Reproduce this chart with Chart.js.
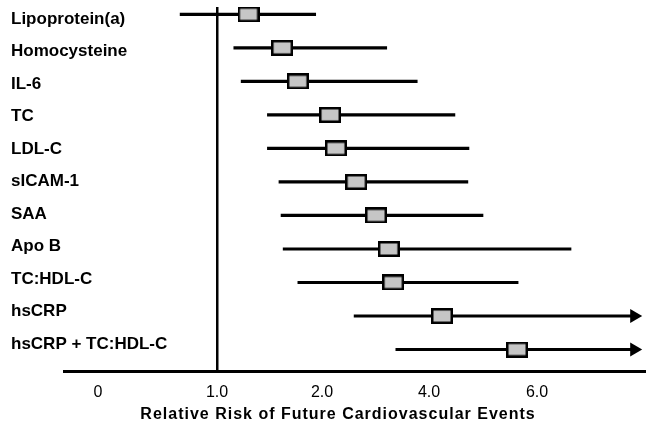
<!DOCTYPE html>
<html>
<head>
<meta charset="utf-8">
<title>Relative Risk of Future Cardiovascular Events</title>
<script src="https://cdn.jsdelivr.net/npm/chart.js@4.4.1/dist/chart.umd.min.js"></script>
<style>
  html, body { margin: 0; padding: 0; background: #fff; overflow: hidden; }
</style>
</head>
<body>
<canvas id="riskChart" width="646" height="426"></canvas>
<script>
// Markers, top to bottom
const markers = ['Lipoprotein(a)', 'Homocysteine', 'IL-6', 'TC', 'LDL-C', 'sICAM-1',
                 'SAA', 'Apo B', 'TC:HDL-C', 'hsCRP', 'hsCRP + TC:HDL-C'];
// Relative risk (box) and 95% CI (line)
const relRisk = [1.30, 1.62, 1.77, 2.15, 2.26, 2.64, 3.01, 3.25, 3.33, 4.24, 5.63];
const ciLow   = [0.69, 1.16, 1.23, 1.48, 1.48, 1.59, 1.61, 1.63, 1.77, 2.60, 3.38];
const ciHigh  = [1.94, 3.21, 3.78, 4.48, 4.74, 4.72, 5.00, 6.63, 5.65, 7.80, 7.80];
// CI runs off the end of the axis -> arrow
const offScale = [false, false, false, false, false, false, false, false, false, true, true];

// Printed axis (labels are not spaced to scale)
const tickRisk = [0, 1, 2, 4, 6];
const tickLabels = ['0', '1.0', '2.0', '4.0', '6.0'];
const tickPos = [0, 119, 224, 331, 439];

// risk -> axis units, piecewise between the printed ticks
function toAxis(r) {
    let k = 0;
    while (k < tickRisk.length - 2 && r > tickRisk[k + 1]) k++;
    const f = (r - tickRisk[k]) / (tickRisk[k + 1] - tickRisk[k]);
    return tickPos[k] + f * (tickPos[k + 1] - tickPos[k]);
}

// grey box marker
const box = document.createElement('canvas');
box.width = 22;
box.height = 16;
const bctx = box.getContext('2d');
bctx.fillStyle = '#c6c6c6';
bctx.fillRect(0, 0, 22, 16);
bctx.strokeStyle = '#000';
bctx.lineWidth = 2.5;
bctx.strokeRect(1.25, 1.25, 19.5, 13.5);

const font = '"Liberation Sans", Arial, Helvetica, sans-serif';

// caption under the axis
const axisCaption = {
    id: 'axisCaption',
    afterDraw(chart) {
        const c = chart.ctx;
        c.save();
        c.font = 'bold 16px ' + font;
        c.letterSpacing = '1px';
        c.fillStyle = '#000';
        c.textAlign = 'center';
        c.textBaseline = 'middle';
        c.fillText('Relative Risk of Future Cardiovascular Events', 338, 415);
        c.restore();
    }
};

const noPad = s => { s.paddingTop = 0; s.paddingBottom = 0; s.paddingLeft = 0; s.paddingRight = 0; };

const ctx = document.getElementById('riskChart').getContext('2d');
new Chart(ctx, {
    type: 'scatter',
    data: {
        datasets: [
            {
                type: 'scatter',
                order: 1,
                data: markers.map((m, i) => ({ x: toAxis(relRisk[i]), y: i })),
                pointStyle: box,
                pointRadius: 8
            },
            {
                type: 'scatter',
                order: 2,
                data: markers.map((m, i) => offScale[i] ? { x: toAxis(ciHigh[i]), y: i } : null).filter(p => p),
                pointStyle: 'triangle',
                rotation: 90,
                pointRadius: 8,
                backgroundColor: '#000',
                borderWidth: 0
            },
            {
                type: 'bar',
                order: 3,
                indexAxis: 'y',
                data: markers.map((m, i) => ({ x: [toAxis(ciLow[i]), toAxis(ciHigh[i])], y: i })),
                backgroundColor: '#000',
                borderWidth: 0,
                barThickness: 2.5
            }
        ]
    },
    options: {
        responsive: false,
        animation: false,
        events: [],
        layout: { autoPadding: false, padding: { left: 11, top: 7, right: 0, bottom: 0 } },
        plugins: { legend: { display: false }, tooltip: { enabled: false } },
        scales: {
            x: {
                type: 'linear',
                min: -34,
                max: 548,
                offset: false,
                afterBuildTicks: s => { s.ticks = tickPos.map(v => ({ value: v })); },
                afterFit: s => { s.height = 55; noPad(s); },
                ticks: {
                    autoSkip: false,
                    maxRotation: 0,
                    padding: 12,
                    color: '#000',
                    font: { family: font, size: 16 },
                    callback: (v, i) => tickLabels[i]
                },
                grid: {
                    drawTicks: false,
                    color: c => c.index === 1 ? '#000' : 'rgba(0,0,0,0)',
                    lineWidth: c => c.index === 1 ? 2.5 : 0
                },
                border: { display: true, color: '#000', width: 3 }
            },
            y: {
                type: 'linear',
                reverse: true,
                offset: false,
                min: -0.218,
                max: 10.64,
                display: false,
                afterFit: noPad
            },
            yLabels: {
                axis: 'y',
                type: 'linear',
                position: 'left',
                reverse: true,
                offset: false,
                min: -0.369,
                max: 10.83,
                afterBuildTicks: s => { s.ticks = markers.map((m, i) => ({ value: i })); },
                afterFit: s => { s.width = 53; noPad(s); },
                ticks: {
                    autoSkip: false,
                    mirror: true,
                    padding: -53,
                    color: '#000',
                    font: { family: font, size: 17, weight: 'bold' },
                    callback: (v, i) => markers[i]
                },
                grid: { display: false },
                border: { display: false }
            }
        }
    },
    plugins: [axisCaption]
});
</script>
</body>
</html>
